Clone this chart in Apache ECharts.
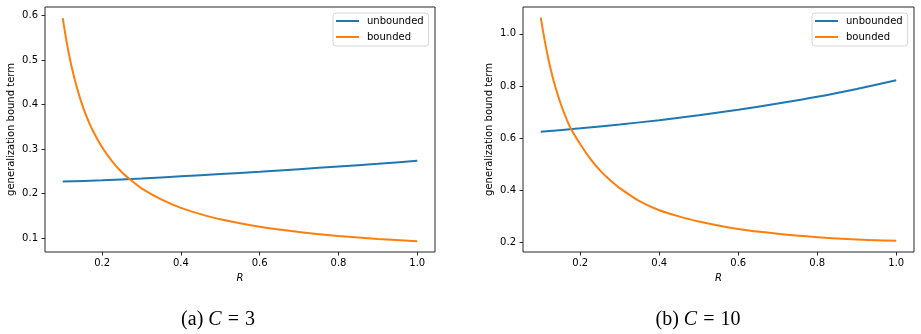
<!DOCTYPE html>
<html>
<head>
<meta charset="utf-8">
<script src="https://cdn.jsdelivr.net/npm/echarts@6/dist/echarts.min.js"></script>
<style>
  html, body { margin: 0; padding: 0; background: #fff; }
  #chart { width: 921px; height: 334px; }
</style>
</head>
<body>
<div id="chart"></div>
<script>
// R values used for the steep "bounded" curves
var rFine = [0.1, 0.11, 0.12, 0.13, 0.14, 0.15, 0.16, 0.175, 0.2, 0.225, 0.25, 0.275,
             0.3, 0.35, 0.4, 0.45, 0.5, 0.6, 0.7, 0.8, 0.9, 1.0];
// R values for the gentle "unbounded" curves
var rCoarse = [0.1, 0.2, 0.3, 0.4, 0.5, 0.6, 0.7, 0.8, 0.9, 1.0];

// (a) C = 3
var boundedC3 = [0.594, 0.540, 0.495, 0.458, 0.426, 0.398, 0.374, 0.344, 0.304, 0.273, 0.248, 0.229,
                 0.212, 0.187, 0.168, 0.154, 0.1425, 0.1256, 0.1138, 0.105, 0.0983, 0.093];
var unboundedC3 = [0.227, 0.230, 0.234, 0.239, 0.244, 0.249, 0.255, 0.261, 0.267, 0.274];

// (b) C = 10
var boundedC10 = [1.062, 0.974, 0.898, 0.835, 0.781, 0.734, 0.693, 0.640, 0.577, 0.522, 0.477, 0.440,
                  0.409, 0.359, 0.324, 0.3005, 0.281, 0.252, 0.234, 0.221, 0.212, 0.207];
var unboundedC10 = [0.625, 0.638, 0.653, 0.669, 0.688, 0.709, 0.733, 0.759, 0.789, 0.822];

var xTicks = [0.2, 0.4, 0.6, 0.8, 1.0];
var yTicksC3 = [0.1, 0.2, 0.3, 0.4, 0.5, 0.6];
var yTicksC10 = [0.2, 0.4, 0.6, 0.8, 1.0];

var BLUE = '#1f77b4';
var ORANGE = '#ff7f0e';
var INK = '#262626';
var FONT = 'DejaVu Sans';

function pairs(xs, ys) {
  return xs.map(function (x, i) { return [x, ys[i]]; });
}

function fmt(v) { return Number(v).toFixed(1); }

function xAxisFor(idx) {
  return {
    type: 'value', gridIndex: idx, min: 0.055, max: 1.045,
    name: 'R', nameLocation: 'middle', nameGap: 21,
    nameTextStyle: { fontFamily: FONT, fontSize: 10, fontStyle: 'italic', color: '#000' },
    axisLine: { show: false },
    axisTick: { show: true, customValues: xTicks, length: 3.5, lineStyle: { color: INK } },
    axisLabel: { customValues: xTicks, formatter: fmt, margin: 6,
                 fontFamily: FONT, fontSize: 10, color: '#000' },
    splitLine: { show: false }
  };
}

function yAxisFor(idx, min, max, ticks) {
  return {
    type: 'value', gridIndex: idx, min: min, max: max,
    name: 'generalization bound term', nameLocation: 'middle', nameGap: 29,
    nameTextStyle: { fontFamily: FONT, fontSize: 10, color: '#000' },
    axisLine: { show: false },
    axisTick: { show: true, customValues: ticks, length: 3.5, lineStyle: { color: INK } },
    axisLabel: { customValues: ticks, formatter: fmt, margin: 7,
                 fontFamily: FONT, fontSize: 10, color: '#000' },
    splitLine: { show: false }
  };
}

function lineSeries(name, idx, xs, ys, color) {
  return {
    type: 'line', name: name, xAxisIndex: idx, yAxisIndex: idx,
    data: pairs(xs, ys), showSymbol: false, smooth: 0.25,
    lineStyle: { color: color, width: 2 }, itemStyle: { color: color },
    emphasis: { disabled: true }, animation: false
  };
}

function legendAt(left) {
  return {
    left: left, top: 13, orient: 'vertical',
    data: ['unbounded', 'bounded'],
    icon: 'rect', itemWidth: 23, itemHeight: 2, itemGap: 4,
    padding: [2, 5, 3, 3],
    backgroundColor: '#fff', borderColor: '#d6d6d6', borderWidth: 1, borderRadius: 3,
    textStyle: { fontFamily: FONT, fontSize: 10, color: '#000', lineHeight: 12, padding: [0, 0, 0, 3] },
    selectedMode: false
  };
}

function caption(x, label, value) {
  return {
    type: 'text', x: x, y: 320,
    style: {
      text: label + ' {c|C}{eq|=}' + value,
      align: 'center', verticalAlign: 'middle',
      fontFamily: 'Liberation Serif', fontSize: 20, fill: '#000',
      rich: {
        c: { fontFamily: 'Liberation Serif', fontSize: 20, fontStyle: 'italic' },
        eq: { fontFamily: 'Liberation Serif', fontSize: 20, padding: [0, 6, 0, 6] }
      }
    }
  };
}

var chart = echarts.init(document.getElementById('chart'), null, { renderer: 'canvas' });

chart.setOption({
  animation: false,
  backgroundColor: '#fff',
  grid: [
    { left: 45, top: 7, width: 390, height: 245, show: true, borderColor: INK, borderWidth: 1, backgroundColor: 'transparent' },
    { left: 523, top: 7, width: 391, height: 245, show: true, borderColor: INK, borderWidth: 1, backgroundColor: 'transparent' }
  ],
  xAxis: [xAxisFor(0), xAxisFor(1)],
  yAxis: [
    yAxisFor(0, 0.069, 0.619, yTicksC3),
    yAxisFor(1, 0.164, 1.103, yTicksC10)
  ],
  legend: [legendAt(333), legendAt(812)],
  series: [
    lineSeries('unbounded', 0, rCoarse, unboundedC3, BLUE),
    lineSeries('bounded', 0, rFine, boundedC3, ORANGE),
    lineSeries('unbounded', 1, rCoarse, unboundedC10, BLUE),
    lineSeries('bounded', 1, rFine, boundedC10, ORANGE)
  ],
  graphic: [
    caption(218, '(a)', '3'),
    caption(698, '(b)', '10')
  ]
});
</script>
</body>
</html>
